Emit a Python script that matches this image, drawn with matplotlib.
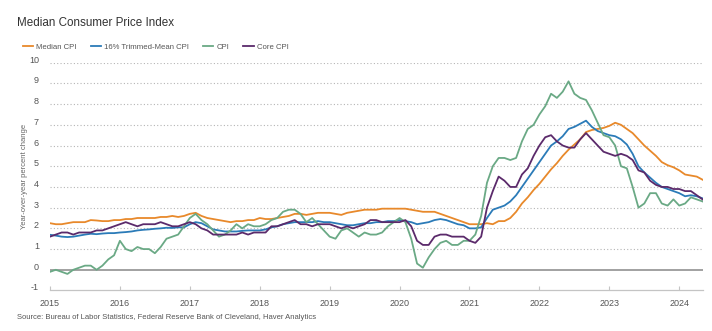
import numpy as np
import matplotlib.pyplot as plt

# monthly year-over-year percent changes, Jan 2015 - May 2024
median_cpi = [
    2.25, 2.2, 2.2, 2.25, 2.3, 2.3, 2.3, 2.4, 2.38, 2.35, 2.35, 2.4,
    2.4, 2.45, 2.45, 2.5, 2.5, 2.5, 2.5, 2.55, 2.55, 2.6, 2.55, 2.6,
    2.7, 2.75, 2.6, 2.5, 2.45, 2.4, 2.35, 2.3, 2.35, 2.35, 2.4, 2.4,
    2.5, 2.45, 2.45, 2.5, 2.55, 2.6, 2.7, 2.7, 2.65, 2.7, 2.75, 2.75,
    2.75, 2.7, 2.65, 2.75, 2.8, 2.85, 2.9, 2.9, 2.9, 2.95, 2.95, 2.95,
    2.95, 2.95, 2.9, 2.85, 2.8, 2.8, 2.8, 2.7, 2.6, 2.5, 2.4, 2.3,
    2.2, 2.2, 2.2, 2.25, 2.2, 2.35, 2.35, 2.5, 2.8, 3.2, 3.5, 3.85,
    4.15, 4.5, 4.85, 5.15, 5.5, 5.8, 6.05, 6.3, 6.65, 6.75, 6.8, 6.85,
    6.95, 7.1, 7.0, 6.8, 6.6, 6.3, 6.0, 5.75, 5.5, 5.2, 5.05, 4.95,
    4.8, 4.6, 4.55, 4.5, 4.35,
]
trimmed_mean_cpi = [
    1.69, 1.65, 1.6, 1.58, 1.6, 1.65, 1.7, 1.74, 1.72, 1.75, 1.77, 1.77,
    1.8, 1.82, 1.85, 1.9, 1.93, 1.95, 1.98, 2.0, 2.03, 2.02, 2.05, 2.05,
    2.2, 2.3, 2.25, 2.1, 1.95, 1.9, 1.85, 1.85, 1.85, 1.88, 1.9, 1.9,
    1.9, 1.95, 2.05, 2.1, 2.2, 2.25, 2.3, 2.3, 2.3, 2.3, 2.35, 2.3,
    2.3, 2.25, 2.2, 2.15, 2.15, 2.2, 2.25, 2.25, 2.3, 2.3, 2.35, 2.35,
    2.4, 2.35, 2.3, 2.2, 2.25, 2.3, 2.4, 2.45, 2.4, 2.3, 2.2, 2.15,
    2.0, 2.0, 2.05, 2.5, 2.9, 3.0, 3.1, 3.3, 3.6, 4.0, 4.4, 4.8,
    5.2, 5.6, 6.0, 6.2, 6.45, 6.8, 6.9, 7.05, 7.2, 6.9, 6.7, 6.6,
    6.5, 6.45, 6.3, 6.05, 5.6, 5.0, 4.7, 4.45, 4.2, 4.0, 3.9, 3.8,
    3.7, 3.55, 3.6, 3.55, 3.45,
]
cpi = [
    -0.1, 0.0, -0.1, -0.2, 0.0, 0.1, 0.2, 0.2, 0.0, 0.2, 0.5, 0.7,
    1.4, 1.0, 0.9, 1.1, 1.0, 1.0, 0.8, 1.1, 1.5, 1.6, 1.7, 2.1,
    2.5, 2.7, 2.4, 2.2, 1.9, 1.6, 1.7, 1.9, 2.2, 2.0, 2.2, 2.1,
    2.1, 2.2, 2.4, 2.5, 2.8, 2.9, 2.9, 2.7, 2.3, 2.5, 2.2, 1.9,
    1.6, 1.5, 1.9, 2.0, 1.8, 1.6, 1.8, 1.7, 1.7, 1.8, 2.1, 2.3,
    2.5, 2.3, 1.5, 0.3, 0.1, 0.6, 1.0, 1.3, 1.4, 1.2, 1.2, 1.4,
    1.4, 1.7, 2.6, 4.2, 5.0, 5.4, 5.4, 5.3, 5.4, 6.2, 6.8, 7.0,
    7.5, 7.9, 8.5, 8.3, 8.6, 9.1, 8.5, 8.3, 8.2, 7.7, 7.1, 6.5,
    6.4, 6.0, 5.0, 4.9, 4.0, 3.0, 3.2, 3.7, 3.7, 3.2, 3.1, 3.4,
    3.1, 3.2, 3.5, 3.4, 3.3,
]
core_cpi = [
    1.6, 1.7, 1.8, 1.8, 1.7, 1.8, 1.8, 1.8, 1.9, 1.9, 2.0, 2.1,
    2.2, 2.3, 2.2, 2.1, 2.2, 2.2, 2.2, 2.3, 2.2, 2.1, 2.1, 2.2,
    2.3, 2.2, 2.0, 1.9, 1.7, 1.7, 1.7, 1.7, 1.7, 1.8, 1.7, 1.8,
    1.8, 1.8, 2.1, 2.1, 2.2, 2.3, 2.4, 2.2, 2.2, 2.1, 2.2, 2.2,
    2.2, 2.1, 2.0, 2.1, 2.0, 2.1, 2.2, 2.4, 2.4, 2.3, 2.3, 2.3,
    2.3, 2.4, 2.1, 1.4, 1.2, 1.2, 1.6, 1.7, 1.7, 1.6, 1.6, 1.6,
    1.4, 1.3, 1.6, 3.0, 3.8, 4.5, 4.3, 4.0, 4.0, 4.6, 4.9, 5.5,
    6.0, 6.4, 6.5, 6.2, 6.0, 5.9, 5.9, 6.3, 6.6, 6.3, 6.0, 5.7,
    5.6, 5.5, 5.6, 5.5, 5.3, 4.8, 4.7, 4.3, 4.1, 4.0, 4.0, 3.9,
    3.9, 3.8, 3.8, 3.6, 3.4,
]
series_names = ["Median CPI", "16% Trimmed-Mean CPI", "CPI", "Core CPI"]
series_colors = ["#e8892b", "#2b7bb8", "#6aa985", "#5b2a6b"]
year_ticks = list(range(2015, 2025))

months = 2015 + np.arange(len(cpi)) / 12

plt.rcParams["font.family"] = ["Liberation Sans", "DejaVu Sans"]
plt.rcParams["axes.unicode_minus"] = False
fig = plt.figure(figsize=(7.12, 3.31), dpi=100)
ax = fig.add_axes([0.0702, 0.1224, 0.9172, 0.6882])

for vals, name, col in zip([median_cpi, trimmed_mean_cpi, cpi, core_cpi],
                           series_names, series_colors):
    ax.plot(months, vals, color=col, lw=1.3, label=name, zorder=3)

ax.set_xlim(2015, 2024.34)
ax.set_ylim(-1, 10)
ax.set_yticks(range(-1, 11))
ax.set_xticks(year_ticks)
ax.set_xticklabels([str(y) for y in year_ticks])

for v in range(1, 11):
    ax.axhline(v, color="#b5b5b5", lw=0.8, ls=(0, (1, 2)), zorder=1)
ax.axhline(0, color="#9a9a9a", lw=1.3, zorder=2)

for s in ["top", "right", "left"]:
    ax.spines[s].set_visible(False)
ax.spines["bottom"].set_color("#c4c4c4")
ax.spines["bottom"].set_linewidth(0.9)

ax.tick_params(axis="y", length=0, pad=8, labelsize=6.5, labelcolor="#555555")
ax.tick_params(axis="x", direction="in", length=3, color="#c4c4c4",
               pad=6, labelsize=6.5, labelcolor="#555555")
for lbl in ax.get_yticklabels():
    lbl.set_va("baseline")

ax.set_ylabel("Year-over-year percent change", fontsize=5.5, color="#666666")
ax.yaxis.set_label_coords(-0.034, 0.5)

fig.text(0.024, 0.93, "Median Consumer Price Index", fontsize=8.4,
         color="#333333", va="center")
leg = fig.legend(loc="center left", bbox_to_anchor=(0.022, 0.858), ncol=4,
                 frameon=False, fontsize=5.6, handlelength=1.3,
                 handletextpad=0.45, columnspacing=1.8)
for t in leg.get_texts():
    t.set_color("#555555")
fig.text(0.024, 0.04, "Source: Bureau of Labor Statistics, Federal Reserve "
         "Bank of Cleveland, Haver Analytics", fontsize=5.5, color="#555555",
         va="center")

fig.savefig("out.png", dpi=100)
